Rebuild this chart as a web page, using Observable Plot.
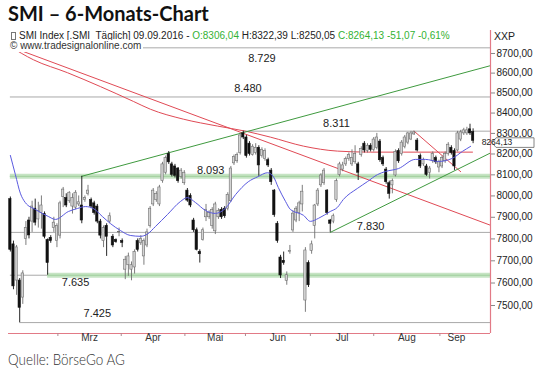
<!DOCTYPE html>
<html><head><meta charset="utf-8">
<script src="https://cdn.jsdelivr.net/npm/d3@7"></script>
<script src="https://cdn.jsdelivr.net/npm/@observablehq/plot@0.6"></script>
<style>
html,body{margin:0;padding:0;background:#fff}
#wrap{position:relative;width:540px;height:378px;overflow:hidden;font-family:"Liberation Sans",Arial,sans-serif}
#title{position:absolute;left:8px;top:1px;font:700 20px Lato,"Open Sans",sans-serif;color:#111;white-space:nowrap}
#legend{position:absolute;left:10px;top:30px;font-size:10px;line-height:12px;color:#222;white-space:nowrap}
#legend .g{color:#33b233}
#copy{position:absolute;left:10px;top:40px;font-size:10px;line-height:12px;color:#333;background:#fff;padding-right:2px;white-space:nowrap}
#xxp{position:absolute;left:494px;top:30px;font-size:10.5px;line-height:12px;color:#222}
#chart{position:absolute;left:0;top:28px}
#caption{position:absolute;left:8px;top:349px;font:300 16px Lato,"Open Sans",sans-serif;color:#333;white-space:nowrap;transform:scaleX(0.84);transform-origin:0 0}
.ic{display:inline-block;width:3px;height:6px;border:1px solid #777;margin:0 3px 0 1px;vertical-align:-1px}
</style></head>
<body><div id="wrap">
<div id="title">SMI – 6-Monats-Chart</div>
<div id="chart"></div>
<div id="legend"></div>
<div id="copy">© www.tradesignalonline.com</div>
<div id="xxp">XXP</div>
<div id="caption">Quelle: BörseGo AG</div>
</div>
<script>
// ---- data ----
const opens = [7985,7775,7611,7611,7535,7800,7885,7880,7940,7890,7920,7915,7795,7805,7850,7790,7815,7995,7990,7975,7950,7945,7960,7955,7980,8010,7980,7965,7950,7880,7790,7860,7880,7810,7795,7830,7790,7660,7680,7660,7670,7790,7780,7720,7770,7860,7960,7980,7960,8070,8110,8200,8150,8140,8130,8090,8060,8025,8000,7885,7840,7740,7795,7900,7900,7860,7835,7900,7935,7940,7940,7975,8155,8165,8205,8300,8280,8250,8195,8205,8230,8190,8175,8170,8120,8025,7870,7715,7700,7610,7740,7839,7885,7920,7960,7522,7690,7745,7860,7960,8050,8060,8025,7885,7880,7980,8100,8125,8150,8175,8150,8160,8150,8195,8250,8215,8240,8220,8230,8260,8180,8125,8060,8050,8097,8215,8200,8235,8255,8270,8295,8265,8190,8150,8140,8110,8165,8180,8135,8140,8165,8200,8230,8215,8217,8270,8300,8300,8320,8306.04];
const highs = [7995,7790,7770,7620,7655,7880,7900,7975,7985,7970,8000,7925,7800,7815,7900,7870,7975,8040,8010,8020,8010,8025,8000,8093,8000,8050,7990,7975,7960,7890,7860,7870,7920,7820,7800,7850,7800,7720,7735,7695,7750,7800,7815,7800,7845,7950,8035,8020,8050,8160,8190,8212,8160,8150,8135,8130,8120,8035,8010,7895,7850,7750,7850,7960,7930,7945,7970,7940,7945,7950,8015,8140,8195,8205,8300,8311,8290,8260,8245,8250,8240,8230,8225,8180,8130,8030,7880,7725,7740,7650,7770,7930,7950,7975,8050,7760,7700,7790,7960,8035,8105,8130,8030,7890,7915,8080,8160,8160,8185,8205,8220,8240,8160,8235,8260,8250,8250,8280,8300,8270,8190,8135,8070,8080,8220,8225,8265,8290,8305,8310,8311,8275,8200,8180,8150,8140,8210,8190,8170,8190,8210,8255,8240,8225,8310,8315,8325,8330,8345,8322.39];
const lows = [7740,7570,7545,7425,7505,7770,7800,7830,7860,7850,7845,7800,7635,7780,7830,7760,7800,7945,7945,7965,7915,7935,7950,7870,7970,8000,7940,7910,7870,7800,7760,7720,7870,7760,7780,7810,7760,7615,7630,7610,7640,7740,7770,7680,7760,7850,7950,7970,7950,8060,8100,8150,8090,8085,8060,8080,8050,7970,7945,7830,7745,7690,7790,7880,7890,7845,7820,7890,7890,7895,7930,7970,8145,8155,8195,8270,8180,8190,8190,8195,8093,8180,8165,8135,8050,7900,7780,7620,7680,7590,7730,7830,7875,7880,7925,7470,7580,7730,7800,7950,8040,8050,7910,7830,7870,7970,8090,8115,8140,8165,8140,8150,8073,8185,8205,8205,8210,8210,8220,8160,8140,8055,7985,8010,8090,8155,8190,8225,8245,8265,8290,8210,8130,8140,8093,8080,8155,8150,8110,8130,8155,8190,8195,8121,8210,8260,8290,8290,8290,8250.05];
const closes = [7750,7585,7761,7490,7643,7850,7816,7950,7875,7930,7955,7810,7690,7790,7875,7860,7965,8030,7955,8015,7990,8015,7970,7885,7990,8025,7950,7920,7880,7815,7850,7810,7905,7770,7785,7832,7782,7705,7720,7680,7740,7750,7800,7790,7830,7940,8025,8010,8040,8150,8180,8160,8100,8095,8070,8120,8110,7978,7955,7840,7750,7730,7840,7935,7920,7935,7960,7930,7900,7905,8005,8130,8185,8195,8290,8280,8190,8200,8235,8230,8145,8220,8215,8145,8065,7910,7790,7634,7690,7635,7745,7917,7940,7965,8020,7747,7590,7775,7955,8025,8097,8120,7920,7870,7905,8070,8150,8145,8175,8195,8180,8200,8110,8225,8217,8240,8220,8270,8280,8170,8150,8065,8010,8070,8210,8165,8255,8280,8300,8300,8305,8217,8140,8170,8100,8130,8200,8160,8160,8180,8200,8245,8205,8140,8300,8305,8315,8315,8300,8264.13];

// horizontal support / resistance levels and the candle index where each starts
const levelValues = [8729, 8480, 8311, 8093, 7830, 7635, 7425];
const levelStart  = [0, 0, 75, 0, 0, 0, 3];
const levelLabels = ["8.729","8.480","8.311","8.093","7.830","7.635","7.425"];
const levelLabelAt = [81, 76.5, 105, 64.5, 116, 21, 28];
const greenBandValues = [8093, 7635];
const greenBandStart = [0, 12];

// trend lines (index, value)
const redTrendIdx = [0, 154.6];      const redTrendVal = [8735, 7863];
const redShortIdx = [130, 145];      const redShortVal = [8311, 8115];
const greenTopIdx = [23, 154.6];     const greenTopVal = [8093, 8638];
const greenUpIdx  = [103, 154.6];    const greenUpVal  = [7830, 8205];

// slow red average (index, value)
const redAvgIdx = [0,7.4,18.4,29,39.6,45.1,55.7,66.7,75.7,83.7,94.4,105.3,115.9,126.6,138.5,148.8];
const redAvgVal = [8735,8668,8602,8532,8458,8419,8370,8336,8311,8282,8238,8214,8209,8209,8209,8209];

// blue moving average (index, value)
const blueIdx = [0,1.6,3.2,4.8,8.1,12.2,14.5,18.7,21.6,24.2,26.7,29.6,32.2,35.4,38.6,41.9,44,46.7,50.6,54.7,57,59.6,62.8,66,69.2,72.5,76.6,79.7,82.8,84.7,86.3,88.6,90.2,94.4,96.6,99.2,103,105.3,107.2,111.7,115,118.2,120.8,125,130.4,133.6,137.8,142.3,145.6,148.2];
const blueVal = [8193,8102,8013,7969,7936,7904,7890,7927,7941,7950,7941,7904,7871,7839,7816,7812,7821,7857,7913,7973,7992,7969,7932,7918,7941,8006,8067,8091,8110,8091,8039,7974,7936,7909,7881,7895,7927,7946,7983,8035,8068,8101,8116,8130,8174,8174,8164,8179,8213,8237];

// x axis: month boundaries (candle index) and names
const monthTickIdx = [15.3, 35.7, 56.2, 75.7, 96.6, 117, 138.3];
const monthNames = ["Mrz","Apr","Mai","Jun","Jul","Aug","Sep"];
const yTickValues = [7500,7600,7700,7800,7900,8000,8100,8200,8300,8400,8500,8600,8700];

// ---- build ----
const candles = closes.map((c, i) => ({i, o: opens[i], h: highs[i], l: lows[i], c}));
const last = candles[candles.length - 1];
const prevClose = 8315.20;
const xDomain = [-0.6, 154.6];
const yDomain = [7377.4, 8818.6];
const xEnd = xDomain[1];
const RED = "#e04a55", AXIS = "#e27a86", GREEN = "#3f9a3f", BAND = "#c6e4c4", GRAY = "#a9a9a9";

const levels = levelValues.map((v, k) => ({v, start: levelStart[k], t: levelLabels[k], at: levelLabelAt[k]}));
const bands = greenBandValues.map((v, k) => ({v, start: greenBandStart[k]}));
const pts = (xs, ys) => xs.map((x, k) => ({x, y: ys[k]}));
const labelDy = {"8.729": 11, "8.480": -9, "8.311": -8, "8.093": -6, "7.830": -6, "7.635": 7, "7.425": -9};
const lastMonthMid = (monthTickIdx[monthTickIdx.length-1] + last.i) / 2;
const months = monthNames.map((n, k) => ({n, mid: k < monthTickIdx.length - 1 ? (monthTickIdx[k] + monthTickIdx[k+1]) / 2 : lastMonthMid}));
const fmt = d => d.toFixed(2).replace(".", ",");
const up = d => d.c >= d.o;

const plot = Plot.plot({
  width: 540, height: 322,
  marginTop: 2, marginBottom: 17, marginLeft: 8, marginRight: 50,
  x: {type: "linear", domain: xDomain, axis: null},
  y: {type: "log", domain: yDomain, axis: null},
  style: {fontFamily: "'Liberation Sans', Arial, sans-serif", background: "transparent"},
  marks: [
    Plot.ruleY(levels, {y: "v", x1: "start", x2: () => xEnd, stroke: GRAY, strokeWidth: 1}),
    Plot.ruleY(bands, {y: "v", x1: "start", x2: () => xEnd, stroke: BAND, strokeWidth: 5}),
    Plot.ruleY(bands, {y: "v", x1: "start", x2: () => xEnd, stroke: "#9fcf9c", strokeWidth: 1}),
    ...levels.map(d => Plot.text([d], {x: "at", y: "v", text: "t", dy: labelDy[d.t], fontSize: 11, fill: "#222"})),
    Plot.line(pts(redTrendIdx, redTrendVal), {x: "x", y: "y", stroke: RED, strokeWidth: 1}),
    Plot.line(pts(redAvgIdx, redAvgVal), {x: "x", y: "y", stroke: RED, strokeWidth: 1, curve: "monotone-x"}),
    Plot.line(pts(redShortIdx, redShortVal), {x: "x", y: "y", stroke: RED, strokeWidth: 1}),
    Plot.line(pts(greenTopIdx, greenTopVal), {x: "x", y: "y", stroke: GREEN, strokeWidth: 1}),
    Plot.line(pts(greenUpIdx, greenUpVal), {x: "x", y: "y", stroke: GREEN, strokeWidth: 1}),
    Plot.ruleX(candles, {x: "i", y1: "l", y2: "h", stroke: d => up(d) ? "#6e6e6e" : "#111", strokeWidth: 0.9}),
    Plot.rect(candles, {x1: d => d.i - 0.37, x2: d => d.i + 0.37,
      y1: d => Math.min(d.o, d.c), y2: d => Math.max(d.o, d.c),
      fill: d => up(d) ? "#d4d4d4" : "#111", stroke: d => up(d) ? "#6e6e6e" : "#111", strokeWidth: 0.6}),
    Plot.line(pts(blueIdx, blueVal), {x: "x", y: "y", stroke: "#5a5ae0", strokeWidth: 1, curve: "monotone-x"}),
    Plot.ruleX([xEnd], {stroke: AXIS, strokeWidth: 1.2}),
    Plot.ruleY([yDomain[0]], {stroke: AXIS, strokeWidth: 1.2}),
    Plot.axisY({anchor: "right", ticks: yTickValues, tickFormat: fmt, tickSize: 4, tickPadding: 2, fontSize: 10, stroke: "#888", fill: "#222"}),
    Plot.axisX({ticks: monthTickIdx, tickFormat: () => "", tickSize: 3, stroke: "#b08890"}),
    Plot.text(months, {x: "mid", text: "n", frameAnchor: "bottom", dy: 7, fontSize: 10, fill: "#333"})
  ]
});
document.getElementById("chart").appendChild(plot);

// last-price marker using the plot's y scale, fitted between the 8300 and 8200 labels
const svg = d3.select(plot);
const yA = plot.scale("y").apply(8300), yB = plot.scale("y").apply(8200);
const yy = (yA + yB) / 2 - 0.6;
const xx = 540 - 50 + 2;
const g = svg.append("g");
g.append("path").attr("d", `M${xx},${yy} L${xx+4},${yy-4.8} L${xx+42},${yy-4.8} L${xx+42},${yy+4.8} L${xx+4},${yy+4.8} Z`)
  .attr("fill", "#fff").attr("stroke", "#666").attr("stroke-width", 0.8);
g.append("text").attr("x", xx + 5).attr("y", yy).attr("dy", "0.34em").attr("font-size", 8.5).attr("fill", "#222").text(fmt(last.c));

// legend line built from last candle
const chg = last.c - prevClose;
const pct = chg / prevClose * 100;
const f2 = v => v.toFixed(2).replace(".", ",");
document.getElementById("legend").innerHTML =
  `<span class="ic"></span>SMI Index [.SMI&nbsp; Täglich] 09.09.2016 - <span class="g">O:${f2(last.o)}</span> H:${f2(last.h)} L:${f2(last.l)} <span class="g">C:${f2(last.c)} ${f2(chg)} ${f2(pct)}%</span>`;
</script>
</body></html>
